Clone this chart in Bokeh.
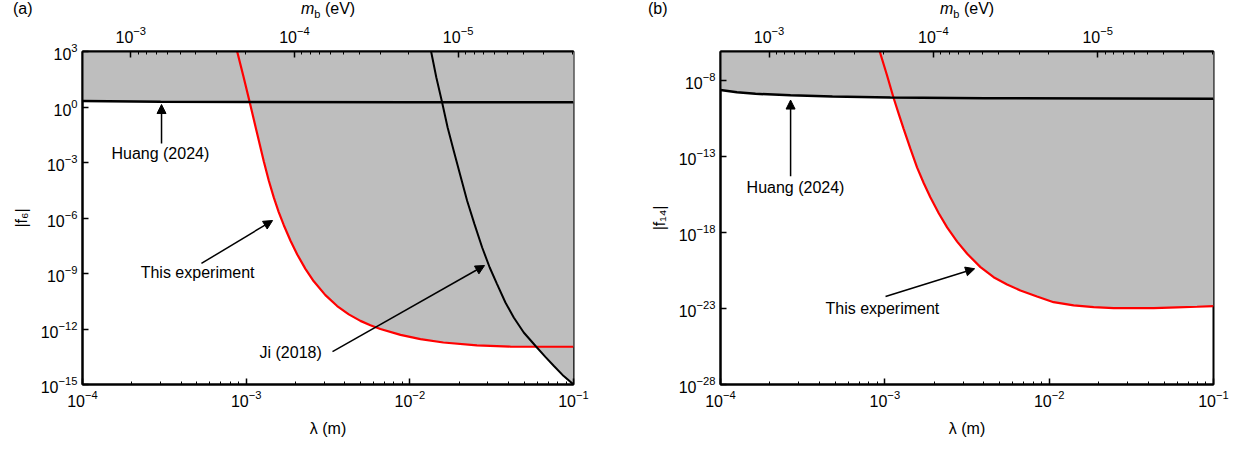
import numpy as np
from bokeh.plotting import figure
from bokeh.layouts import row, column
from bokeh.models import Range1d, LogAxis, LogScale, FixedTicker, Arrow, NormalHead, Label, Div
from bokeh.embed import file_html
from bokeh.resources import INLINE

HBAR_C = 1.9733e-7  # eV m, converts lambda to boson mass

FONT = "Liberation Sans"
GRAY = "#bebebe"

# ---- panel (a): |f6|
lam_huang_a = [1e-4, 3e-4, 1e-3, 1e-2, 1e-1]
f6_huang = [2.1, 1.95, 1.85, 1.8, 1.8]

lam_this_a = [8.81e-4, 9.66e-4, 1.052e-3, 1.156e-3, 1.282e-3, 1.374e-3, 1.476e-3,
              1.581e-3, 1.698e-3, 1.866e-3, 2.051e-3, 2.301e-3, 2.588e-3, 3.048e-3,
              3.597e-3, 4.236e-3, 4.989e-3, 5.741e-3, 6.607e-3, 8.770e-3, 1.161e-2,
              1.603e-2, 2.570e-2, 4.121e-2, 1e-1]
f6_this = [1e3, 39.4, 1.75, 5.18e-2, 1.12e-3, 1.07e-4, 1.26e-5,
           2.09e-6, 4.07e-7, 5.89e-8, 1.07e-8, 1.78e-9, 3.80e-10, 6.76e-11,
           1.74e-11, 6.17e-12, 2.75e-12, 1.58e-12, 1.0e-12, 4.79e-13, 2.82e-13,
           1.86e-13, 1.29e-13, 1.12e-13, 1.10e-13]

lam_ji = [1.349e-2, 1.452e-2, 1.574e-2, 1.702e-2, 1.854e-2, 2.037e-2, 2.239e-2,
          2.483e-2, 2.767e-2, 3.076e-2, 3.412e-2, 3.837e-2, 4.315e-2, 4.966e-2,
          5.848e-2, 6.730e-2, 7.568e-2, 8.710e-2, 1e-1]
f6_ji = [1e3, 39.4, 1.82, 7.8e-2, 4.29e-3, 1.91e-4, 8.5e-6,
         4.68e-7, 2.54e-8, 2.11e-9, 2.67e-10, 2.7e-11, 4.19e-12, 6.47e-13,
         1.24e-13, 3.14e-14, 1.03e-14, 2.84e-15, 1e-15]

# ---- panel (b): |f14|
lam_huang_b = [1e-4, 1.259e-4, 1.633e-4, 2.667e-4, 4.797e-4, 1.081e-3, 4.093e-3, 1e-1]
f14_huang = [2.45e-9, 1.74e-9, 1.38e-9, 1.12e-9, 9.33e-10, 7.94e-10, 7.08e-10, 6.61e-10]

lam_this_b = [9.31e-4, 1.033e-3, 1.132e-3, 1.216e-3, 1.303e-3, 1.432e-3, 1.570e-3,
              1.726e-3, 1.892e-3, 2.128e-3, 2.393e-3, 2.754e-3, 3.170e-3, 3.819e-3,
              4.592e-3, 5.546e-3, 6.683e-3, 8.433e-3, 1.064e-2, 1.409e-2, 1.866e-2,
              2.466e-2, 3.266e-2, 4.325e-2, 5.998e-2, 7.943e-2, 1e-1]
f14_this = [8.5e-7, 2.14e-8, 7.08e-10, 6.46e-11, 6.61e-12, 3.24e-13, 2.0e-14,
            1.78e-15, 2.14e-16, 1.91e-17, 2.24e-18, 2.57e-19, 4.07e-20, 5.37e-21,
            1.17e-21, 3.89e-22, 1.55e-22, 6.31e-23, 2.63e-23, 1.62e-23, 1.26e-23,
            1.07e-23, 1.07e-23, 1.07e-23, 1.20e-23, 1.32e-23, 1.45e-23]

# ticks
lam_major = [1e-4, 1e-3, 1e-2, 1e-1]
lam_minor = [k * 10.0 ** n for n in (-4, -3, -2) for k in range(2, 10)]
m_major = [1e-3, 1e-4, 1e-5]
m_minor = [k * 10.0 ** n for n in (-6, -5, -4, -3) for k in range(2, 10)
           if HBAR_C / 1e-1 <= k * 10.0 ** n <= HBAR_C / 1e-4]
f6_ticks = [1e3, 1e0, 1e-3, 1e-6, 1e-9, 1e-12, 1e-15]
f14_ticks = [1e-8, 1e-13, 1e-18, 1e-23, 1e-28]


def style_axis(ax):
    ax.axis_line_width = 2
    ax.axis_line_color = "black"
    ax.major_tick_in = 6
    ax.major_tick_out = 0
    ax.minor_tick_in = 3
    ax.minor_tick_out = 0
    ax.major_tick_line_width = 1.5
    ax.major_label_text_font = FONT
    ax.major_label_text_font_size = "16px"
    ax.major_label_text_color = "black"
    ax.major_label_standoff = 5
    ax.axis_label_text_font = FONT
    ax.axis_label_text_font_size = "16px"
    ax.axis_label_text_font_style = "normal"
    ax.axis_label_text_color = "black"


def text(p, x, y, s):
    p.add_layout(Label(x=x, y=y, text=s, text_font=FONT, text_font_size="16px",
                       text_color="black", text_align="center", text_baseline="middle"))


def arrow(p, x0, y0, x1, y1):
    p.add_layout(Arrow(end=NormalHead(size=9, fill_color="black", line_color="black", line_width=1),
                       x_start=x0, y_start=y0, x_end=x1, y_end=y1,
                       line_width=1.5, line_color="black"))


def make_panel(width, bl, br, y_lo, y_hi, y_ticks, y_label):
    p = figure(width=width, height=438, x_axis_type="log", y_axis_type="log",
               x_range=Range1d(1e-4, 1e-1), y_range=Range1d(y_lo, y_hi),
               output_backend="svg", toolbar_location=None,
               min_border_left=bl, min_border_right=br,
               min_border_top=31, min_border_bottom=74)
    p.grid.visible = False
    p.outline_line_color = "black"
    p.outline_line_width = 2

    p.extra_x_ranges = {"mass": Range1d(HBAR_C / 1e-4, HBAR_C / 1e-1)}
    p.extra_x_scales = {"mass": LogScale()}
    top = LogAxis(x_range_name="mass",
                  ticker=FixedTicker(ticks=m_major, minor_ticks=m_minor))
    p.add_layout(top, "above")

    bottom = p.below[0]
    bottom.ticker = FixedTicker(ticks=lam_major, minor_ticks=lam_minor)
    bottom.axis_label = "λ (m)"
    bottom.axis_label_standoff = 10
    left = p.left[0]
    left.ticker = FixedTicker(ticks=y_ticks, minor_ticks=[])
    left.axis_label = y_label
    left.axis_label_standoff = 8
    for ax in (top, bottom, left):
        style_axis(ax)
    top.major_label_standoff = 9
    return p


# ---------------- panel (a)
pa = make_panel(628, 82, 55, 1e-15, 1e3, f6_ticks, "|f₆|")
top_a = 1e3
pa.patch(lam_huang_a + [1e-1, 1e-4], f6_huang + [top_a, top_a], fill_color=GRAY, line_color=None)
pa.patch(lam_this_a + [1e-1], f6_this + [top_a], fill_color=GRAY, line_color=None)
pa.patch(lam_ji + [1e-1], f6_ji + [top_a], fill_color=GRAY, line_color=None)
pa.line(lam_this_a, f6_this, line_color="red", line_width=2.2)
pa.line(lam_huang_a, f6_huang, line_color="black", line_width=2.5)
pa.line(lam_ji, f6_ji, line_color="black", line_width=2)

arrow(pa, 3.04e-4, 1.07e-2, 3.04e-4, 1.36)
text(pa, 2.99e-4, 3.1e-3, "Huang (2024)")
arrow(pa, 5.33e-4, 3.5e-9, 1.45e-3, 7.3e-7)
text(pa, 5.05e-4, 1.1e-9, "This experiment")
arrow(pa, 3.37e-3, 6.0e-14, 2.86e-2, 2.7e-9)
text(pa, 1.87e-3, 5.4e-14, "Ji (2018)")

# ---------------- panel (b)
top_b = 10 ** -6.07
pb = make_panel(606, 92, 21, 1e-28, top_b, f14_ticks, "|f₁₄|")
pb.patch(lam_huang_b + [1e-1, 1e-4], f14_huang + [top_b, top_b], fill_color=GRAY, line_color=None)
pb.patch(lam_this_b + [1e-1], f14_this + [top_b], fill_color=GRAY, line_color=None)
pb.line(lam_this_b, f14_this, line_color="red", line_width=2.2)
pb.line(lam_huang_b, f14_huang, line_color="black", line_width=2.5)

arrow(pb, 2.67e-4, 5.1e-15, 2.67e-4, 5.4e-10)
text(pb, 2.86e-4, 9.3e-16, "Huang (2024)")
arrow(pb, 1.01e-3, 6.3e-23, 3.52e-3, 4.2e-21)
text(pb, 9.66e-4, 1.02e-23, "This experiment")

# panel tags and top-axis titles (mixed italic / subscript text)
mb = '<i>m</i><sub style="font-size:11px">b</sub> (eV)'
head = Div(text=(
    '<div style="position:relative;width:1234px;height:20px;'
    'font-family:\'Liberation Sans\';font-size:16px;color:black;white-space:nowrap">'
    '<span style="position:absolute;left:13px;top:-2px">(a)</span>'
    '<span style="position:absolute;left:301px;top:-2px">' + mb + '</span>'
    '<span style="position:absolute;left:648px;top:-2px">(b)</span>'
    '<span style="position:absolute;left:940px;top:-2px">' + mb + '</span>'
    '</div>'), width=1234, height=20, margin=0)

layout = column(head, row(pa, pb))
open("out.html", "w").write(file_html(layout, INLINE))
